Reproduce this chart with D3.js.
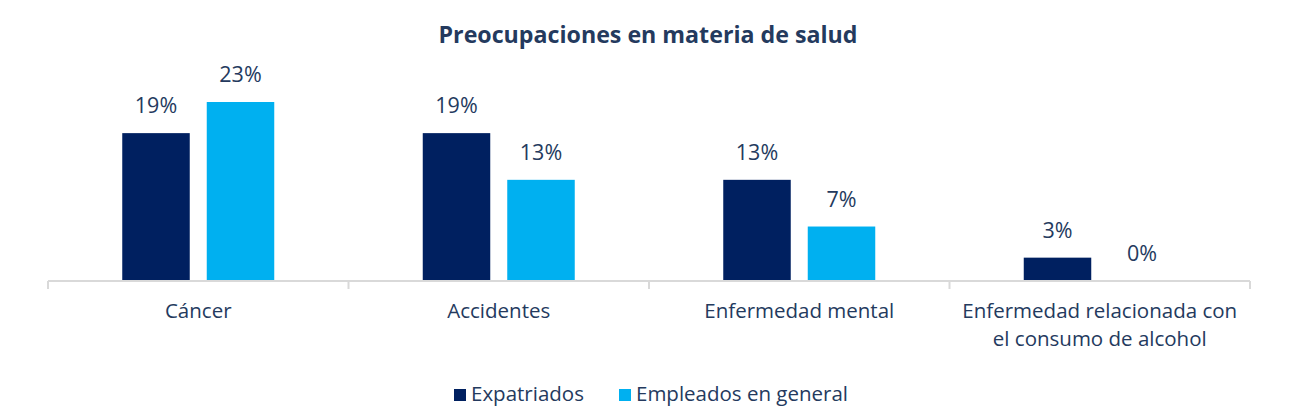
<!DOCTYPE html>
<html>
<head>
<meta charset="utf-8">
<script src="https://cdn.jsdelivr.net/npm/d3@7"></script>
<style>
  body { margin: 0; background: #fff; }
  svg { display: block; font-family: "Open Sans", sans-serif; }
</style>
</head>
<body>
<svg id="chart" width="1291" height="417"></svg>
<script>
const categories = ["Cáncer", "Accidentes", "Enfermedad mental", "Enfermedad relacionada con|el consumo de alcohol"];
const seriesNames = ["Expatriados", "Empleados en general"];
const expatriados = [19, 19, 13, 3];
const empleados = [23, 13, 7, 0];

const colors = ["#002060", "#00b0f0"];
const textColor = "#243a5e";

const svg = d3.select("#chart");
const margin = { left: 48, right: 41, axisY: 281 };
const width = 1291;

const x = d3.scaleBand()
    .domain(categories)
    .range([margin.left, width - margin.right])
    .paddingInner(0)
    .paddingOuter(0);

const y = d3.scaleLinear()
    .domain([0, 23])
    .range([margin.axisY, 102]);

const barW = 67.5, gap = 17;

// title
svg.append("text")
    .attr("x", 648)
    .attr("y", 43)
    .attr("text-anchor", "middle")
    .attr("font-weight", "bold")
    .attr("font-size", 23.2)
    .attr("fill", textColor)
    .text("Preocupaciones en materia de salud");

const data = categories.map((c, i) => ({ cat: c, values: [expatriados[i], empleados[i]] }));

const groups = svg.selectAll("g.group")
    .data(data)
    .enter()
    .append("g")
    .classed("group", true)
    .attr("transform", d => `translate(${x(d.cat) + x.bandwidth() / 2}, 0)`);

groups.selectAll("rect")
    .data(d => d.values)
    .enter()
    .append("rect")
    .attr("x", (v, i) => i === 0 ? -gap / 2 - barW : gap / 2)
    .attr("width", barW)
    .attr("y", v => y(v))
    .attr("height", v => y(0) - y(v))
    .attr("fill", (v, i) => colors[i]);

groups.selectAll("text.val")
    .data(d => d.values)
    .enter()
    .append("text")
    .classed("val", true)
    .attr("x", (v, i) => i === 0 ? -gap / 2 - barW / 2 : gap / 2 + barW / 2)
    .attr("y", v => y(v) - 20)
    .attr("text-anchor", "middle")
    .attr("font-size", 21.5)
    .attr("fill", textColor)
    .text(v => v + "%");

// axis
const axis = svg.append("g")
    .attr("transform", `translate(0, ${margin.axisY})`)
    .call(d3.axisBottom(x).tickSize(0).tickFormat(""));
axis.select(".domain").attr("stroke", "#d9d9d9").attr("stroke-width", 2)
    .attr("d", `M${margin.left},0H${width - margin.right}`);
axis.selectAll(".tick").remove();

const tickPos = categories.map(c => x(c)).concat([x.range()[1]]);
axis.selectAll("line.sep")
    .data(tickPos)
    .enter()
    .append("line")
    .classed("sep", true)
    .attr("x1", d => d).attr("x2", d => d)
    .attr("y1", 0).attr("y2", 8)
    .attr("stroke", "#d9d9d9")
    .attr("stroke-width", 2);

// category labels
groups.each(function (d) {
    const lines = d.cat.split("|");
    const t = d3.select(this).append("text")
        .attr("text-anchor", "middle")
        .attr("font-size", 20.5)
        .attr("fill", textColor);
    lines.forEach((ln, i) => {
        t.append("tspan")
            .attr("x", 0)
            .attr("y", 318 + i * 28)
            .text(ln);
    });
});

// legend
const legendX = [454, 619];
const legend = svg.selectAll("g.legend")
    .data(seriesNames)
    .enter()
    .append("g")
    .classed("legend", true)
    .attr("transform", (d, i) => `translate(${legendX[i]}, 389)`);
legend.append("rect")
    .attr("width", 12).attr("height", 12)
    .attr("fill", (d, i) => colors[i]);
legend.append("text")
    .attr("x", 17)
    .attr("y", 12)
    .attr("font-size", 20.5)
    .attr("fill", textColor)
    .text(d => d);
</script>
</body>
</html>
